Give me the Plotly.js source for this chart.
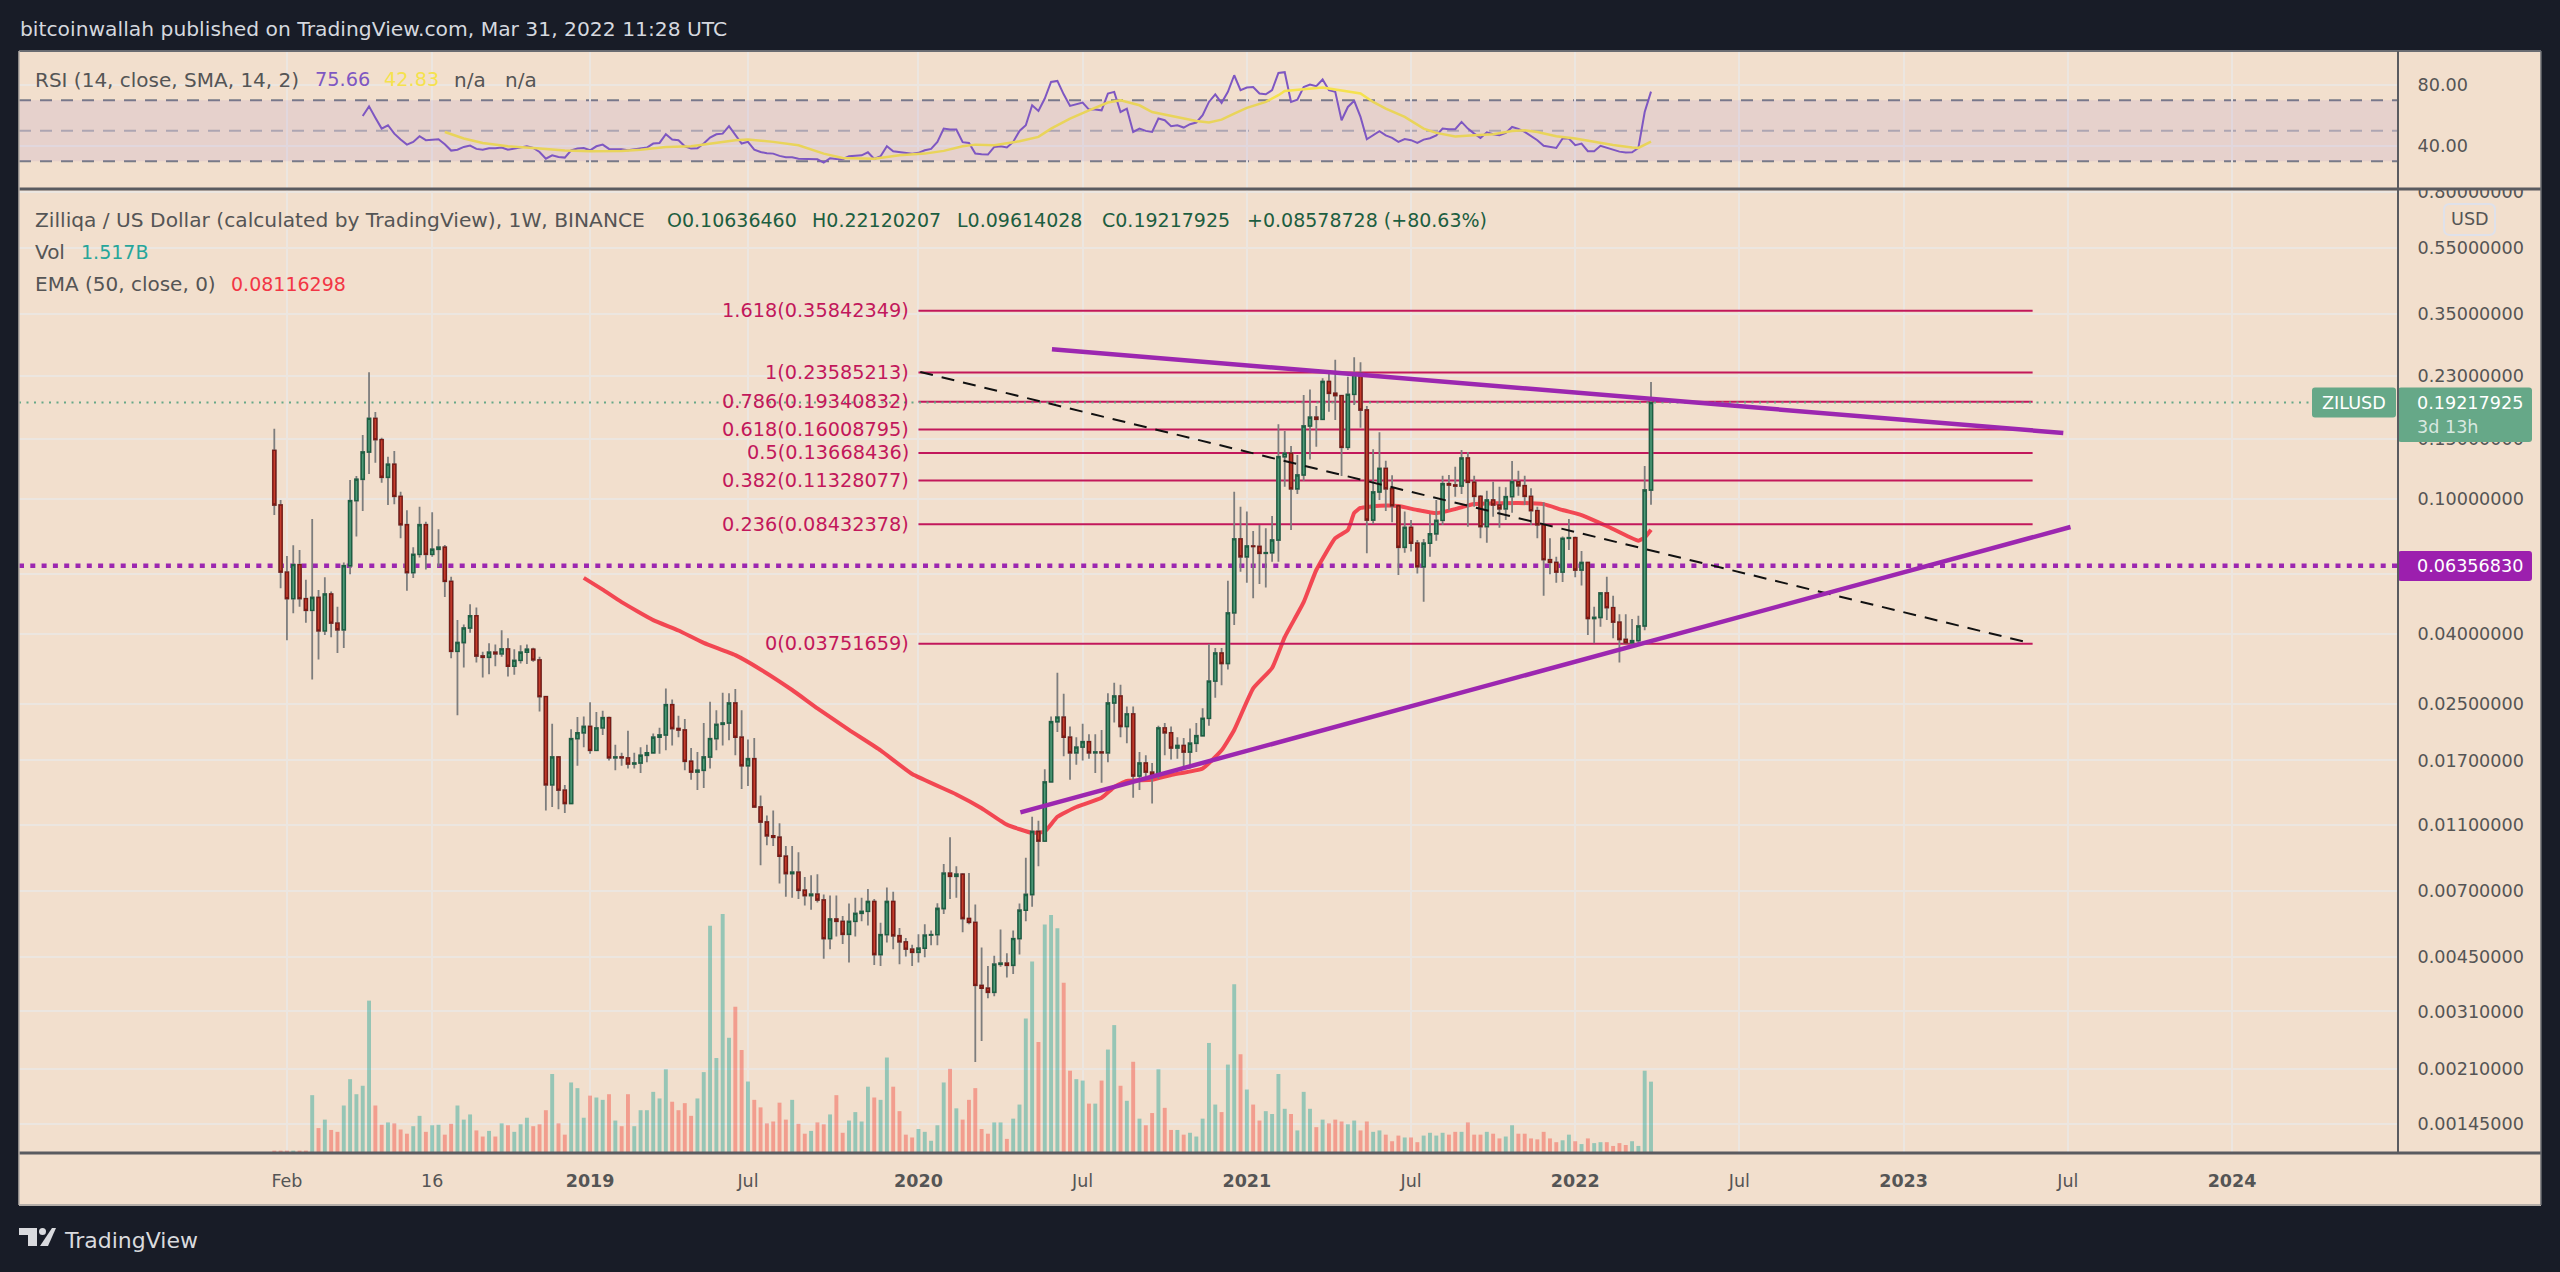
<!DOCTYPE html>
<html><head><meta charset="utf-8">
<script src="https://cdn.plot.ly/plotly-3.0.1.min.js"></script>
<style>html,body{margin:0;padding:0;background:#181c27}#c{width:2560px;height:1272px}</style>
</head><body><div id="c"></div>
<script>
const firstOpen = 0.139;
const closes = [.0960,.0609,.0509,.0641,.0509,.0470,.0513,.0409,.0525,.0431,
.0412,.0636,.0989,.1143,.1375,.1727,.1495,.1159,.1265,.1018,
.0840,.0607,.0687,.0840,.0687,.0711,.0721,.0572,.0356,.0378,
.0417,.0453,.0345,.0342,.0354,.0350,.0362,.0322,.0335,.0354,
.0361,.0336,.0262,.0144,.0174,.0139,.0127,.0197,.0205,.0214,
.0182,.0212,.0227,.0173,.0174,.0173,.0166,.0167,.0176,.0179,
.0199,.0202,.0248,.0211,.0209,.0169,.0157,.0159,.0174,.0197,
.0217,.0219,.0251,.0199,.0164,.0172,.0124,.0112,.0102,.0101,
.00888,.00790,.00797,.00705,.00680,.00687,.00660,.00508,.00580,.00571,
.00523,.00571,.00603,.00611,.00653,.00456,.00522,.00653,.00518,.00497,
.00473,.00463,.00476,.00520,.00522,.00623,.00792,.00775,.00786,.00582,
.00567,.00370,.00363,.00353,.00427,.00430,.00424,.00508,.00616,.00685,
.0105,.00984,.0147,.0221,.0228,.0199,.0179,.0186,.0193,.0179,
.0180,.0179,.0251,.0263,.0214,.0233,.0153,.0167,.0157,.0154,
.0212,.0205,.0185,.0188,.0180,.0191,.0201,.0226,.0291,.0352,
.0328,.0462,.0763,.0676,.0727,.0725,.0692,.0695,.0757,.1332,
.1363,.1072,.1177,.1641,.1741,.1716,.2217,.2047,.2015,.1419,
.2032,.2345,.1828,.0867,.1049,.1231,.1072,.0955,.0721,.0825,
.0741,.0632,.0741,.0790,.0865,.1109,.1100,.1092,.1320,.1120,
.1018,.0829,.0993,.0960,.0936,.1016,.1124,.1094,.1018,.0924,
.0840,.0663,.0651,.0609,.0766,.0769,.0618,.0650,.0445,.0448,
.0529,.0479,.0434,.0386,.0377,.0383,.0423,.1063,.19217925];
const highs = [.161,.0993,.0680,.0731,.0708,.0578,.0873,.0540,.0588,.0534,
.0482,.0650,.1137,.1169,.1543,.2361,.1803,.1515,.1332,.1385,
.1050,.0926,.0721,.0949,.0857,.0914,.0814,.0732,.0590,.0440,
.0427,.0490,.0479,.0355,.0376,.0373,.0411,.0389,.0361,.0371,
.0373,.0365,.0343,.0262,.0218,.0175,.0144,.0210,.0228,.0229,
.0252,.0236,.0238,.0229,.0189,.0179,.0208,.0179,.0186,.0189,
.0204,.0212,.0277,.0257,.0230,.0225,.0185,.0180,.0219,.0253,
.0239,.0269,.0268,.0276,.0239,.0196,.0198,.0134,.0117,.0121,
.0111,.00951,.00951,.00913,.00771,.00780,.00786,.00685,.00680,.00680,
.00592,.00644,.00670,.00670,.00711,.00664,.00566,.00718,.00698,.00546,
.00510,.00487,.00523,.00560,.00537,.00646,.00843,.0101,.00830,.00792,
.00792,.00640,.00478,.00422,.00452,.00540,.00460,.00537,.00644,.00879,
.0116,.0113,.0160,.0229,.0308,.0267,.0214,.0199,.0218,.0203,
.0203,.0209,.0268,.0288,.0284,.0245,.0245,.0180,.0176,.0167,
.0215,.0219,.0214,.0199,.0198,.0211,.0219,.0242,.0374,.0364,
.0364,.0575,.1050,.0949,.0918,.0805,.0838,.0820,.0891,.1660,
.1586,.1432,.1348,.2025,.2102,.1878,.2266,.2345,.2568,.2025,
.2290,.2615,.2526,.1878,.1400,.1572,.1297,.1174,.0960,.0918,
.0867,.0757,.0763,.0903,.0993,.1171,.1177,.1245,.1394,.1375,
.1171,.1027,.1058,.1124,.1087,.1082,.1293,.1212,.1171,.1075,
.0949,.0978,.0766,.0676,.0775,.0873,.0775,.0703,.0650,.0482,
.0530,.0590,.0519,.0458,.0458,.0443,.0453,.1250,.22120207];
const lows = [.0897,.0546,.0384,.0461,.0482,.0432,.0294,.0337,.0398,.0392,
.0352,.0364,.0600,.0775,.0922,.1185,.1279,.1117,.0960,.0965,
.0766,.0537,.0585,.0673,.0620,.0676,.0632,.0515,.0340,.0231,
.0319,.0404,.0330,.0298,.0305,.0322,.0343,.0300,.0304,.0328,
.0327,.0332,.0237,.0121,.0124,.0122,.0119,.0127,.0164,.0186,
.0178,.0182,.0202,.0170,.0159,.0164,.0161,.0161,.0156,.0168,
.0178,.0178,.0182,.0188,.0199,.0159,.0149,.0139,.0141,.0161,
.0182,.0188,.0195,.0176,.0140,.0143,.0124,.00836,.00957,.00951,
.00738,.00675,.00670,.00664,.00636,.00618,.00649,.00443,.00473,.00515,
.00490,.00432,.00515,.00571,.00555,.00425,.00422,.00495,.00473,.00427,
.00450,.00422,.00432,.00448,.00486,.00486,.00600,.00664,.00670,.00530,
.00560,.00220,.00254,.00339,.00344,.00420,.00390,.00400,.00456,.00571,
.00630,.00830,.00979,.0146,.0206,.0175,.0149,.0165,.0170,.0172,
.0156,.0146,.0168,.0220,.0199,.0191,.0132,.0139,.0149,.0127,
.0150,.0176,.0171,.0172,.0162,.0161,.0180,.0209,.0215,.0260,
.0283,.0315,.0426,.0611,.0567,.0510,.0562,.0549,.0654,.0654,
.1087,.0810,.1034,.1132,.1308,.1426,.1707,.1807,.1707,.1169,
.1394,.1892,.1622,.0692,.0844,.0993,.0922,.0854,.0597,.0695,
.0700,.0604,.0498,.0676,.0754,.0838,.0928,.1016,.1034,.0829,
.0949,.0766,.0744,.0887,.0823,.0867,.0911,.1023,.0960,.0838,
.0766,.0519,.0600,.0567,.0570,.0708,.0588,.0556,.0398,.0376,
.0421,.0440,.0389,.0330,.0376,.0366,.0376,.0411,.09614028];
const volumes = [.05,.05,.05,.05,.05,.05,1.23,.53,.71,.49,
.45,1.01,1.57,1.25,1.43,3.24,1.01,.60,.65,.63,
.50,.41,.57,.79,.45,.59,.60,.39,.62,1.01,
.71,.82,.48,.35,.47,.35,.63,.59,.45,.61,
.75,.57,.61,.91,1.68,.63,.39,1.50,1.38,.75,
1.22,1.18,1.13,1.25,.69,.57,1.25,.57,.91,.91,
1.30,1.16,1.78,1.09,.91,1.06,.79,1.16,1.72,4.83,
2.02,5.08,2.45,3.11,2.19,1.52,1.13,.97,.63,.67,
1.07,.71,1.13,.62,.41,.47,.65,.61,.82,1.23,
.43,.69,.87,.67,1.41,1.18,1.13,2.03,1.41,.89,
.39,.33,.51,.45,.26,.59,1.50,1.79,.95,.71,
1.13,1.38,.51,.41,.65,.65,.30,.73,1.03,2.86,
4.07,2.36,4.86,5.06,4.78,3.62,1.75,1.57,1.54,1.05,
1.05,1.54,2.20,2.72,1.43,1.11,1.94,.73,.59,.85,
1.78,.96,.49,.49,.39,.43,.35,.73,2.34,1.03,
.87,1.88,3.59,2.10,1.35,1.03,.69,.89,.83,1.68,
.94,.83,.48,1.30,.94,.55,.71,.63,.71,.67,
.61,.69,.48,.67,.45,.48,.39,.25,.37,.33,
.33,.23,.37,.43,.37,.43,.39,.45,.45,.65,
.39,.39,.45,.41,.31,.35,.59,.41,.41,.31,
.29,.45,.31,.23,.27,.39,.25,.19,.31,.21,
.23,.23,.15,.21,.17,.25,.15,1.75,1.517];
const emaIdx = [49,52,55,60,64,68,73,77,82,86,91,96,101,108,112,116,120,122,124,127,131,133,135,139,142,147,150,152,155,158,160,163,165,168,170,171,172,175,178,181,184,187,190,197,201,204,207,211,216,217,218];
const emaVal = [.0586,.0541,.0497,.0440,.0410,.0377,.0347,.0315,.0274,.0242,.0209,.0182,.0155,.0135,.0123,.0110,.0104,.0105,.0116,.0124,.0132,.0142,.0148,.0149,.0154,.0161,.0182,.0209,.0277,.0318,.0392,.0497,.0618,.0767,.0810,.0910,.0941,.0955,.0953,.0928,.0908,.0934,.0966,.0973,.0966,.0928,.0897,.0833,.0754,.0770,.08116298];
const rsiStart = 14;
const rsiVal = [59.7,66,58.6,51.4,53.6,48.1,44.2,40.9,42.7,46.4,43.8,44.2,44.4,41.1,37,37.6,39.4,40.3,38.1,37.6,38.5,38.5,39,37.6,38.3,39.4,39.8,38.7,36.1,31.7,33.9,32.8,32.4,37.2,38.3,38.7,37.2,39.8,40.9,38.1,37.9,37.9,37.2,37.9,38.5,39,41.6,42,47.7,44.2,43.8,39.8,38.3,38.5,41.6,45.5,47.7,48.1,53,47,41.6,42.7,37.6,36.1,35.2,35,33.5,32.6,32.6,31.7,31.7,31.7,31.3,29.1,32,31.5,31.3,33.3,33.5,33.9,35.9,31.5,33.3,39.8,36.6,36.1,35.5,35,35.5,37.2,38.1,42.7,51.4,50.8,50.8,42.5,42,35,34.6,34.4,39.4,39.8,39,42.7,49.9,53.6,66.7,63,71.1,82,82.7,73.9,66.3,67.4,68.5,63.9,63.9,63.4,74.4,75.5,62.3,64.5,49.2,51.4,49.9,49.2,58,56.9,53,53.6,52.1,54.3,55.4,60.2,68.9,73.9,68.3,75.5,86.4,76.6,78.3,78.7,74.4,73.9,76.6,87.9,88.4,68.9,70.4,78.7,80.3,79.2,83.6,76.6,75.5,56.9,65.6,69.6,59.1,44.4,47,49.7,47,45.3,42.7,44.6,43.8,42,44.2,45.1,47,51.4,51,51,55.8,51.4,48.1,45.3,49,47.7,47,48.6,52.5,51.2,49.2,46.4,43.8,40.1,39.4,38.7,44.9,44.9,40.5,41.6,36.6,36.6,40.1,38.7,37.6,36.3,35.7,35.9,38.7,62.3,75.66];
const smaIdx = [27,30,33,37,41,46,50,55,58,62,66,70,73,75,79,83,87,90,95,99,103,106,109,111,114,118,121,123,126,129,132,134,137,139,143,146,148,150,152,154,157,159,160,163,166,168,171,172,174,176,179,182,184,187,190,193,196,198,200,203,206,209,212,215,216,218];
const smaVal = [49.2,44.9,42,39.8,38.7,37,36.6,36.8,37.6,39.4,39.8,42,43.8,44.2,42.7,40.5,35,32.2,31.7,33.9,35,36.8,39.8,40.9,40.5,43.1,46,51.4,58,63.4,68.5,70,66.7,62.3,59.1,56.4,55.4,57.3,61.3,65,68.9,73.3,76.1,77.4,78.3,77,75.2,74.4,68.9,64.5,59.1,51.4,48.6,46.2,47,47.7,49.9,50.3,49.2,46.4,44.9,42.7,40.7,39,38.7,42.83];
const fibRatios = ["1.618","1","0.786","0.618","0.5","0.382","0.236","0"];
const fibPrices = [.35842349,.23585213,.19340832,.16008795,.13668436,.11328077,.08432378,.03751659];
const fibDates = ["2020-01-06","2023-05-25"];
const upperDates = ["2020-06-02","2023-06-28"], upperVals = [.2759,.1564];
const lowerDates = ["2020-04-28","2023-07-06"], lowerVals = [.01195,.0827];
const dashDates = ["2020-01-08","2023-05-18"], dashVals = [.2365,.0379];
const levelPrice = 0.0635683, lastPrice = 0.19217925;
const priceTicks = [.8,.55,.35,.23,.15,.1,.06,.04,.025,.017,.011,.007,.0045,.0031,.0021,.00145];
const priceLabels = ["0.80000000","0.55000000","0.35000000","0.23000000","0.15000000","0.10000000","0.06000000","0.04000000","0.02500000","0.01700000","0.01100000","0.00700000","0.00450000","0.00310000","0.00210000","0.00145000"];
const timeTicks = ["2018-02-05","2018-07-16","2019-01-07","2019-07-01","2020-01-06","2020-07-06","2021-01-04","2021-07-05","2022-01-03","2022-07-04","2023-01-02","2023-07-03","2024-01-01"];
const timeLabels = ["Feb","16","<b>2019</b>","Jul","<b>2020</b>","Jul","<b>2021</b>","Jul","<b>2022</b>","Jul","<b>2023</b>","Jul","<b>2024</b>"];
const rsiTicks = [80,40], rsiLabels = ["80.00","40.00"];

const WEEK = 7*864e5, t0 = Date.UTC(2018,0,22);
const dates = closes.map((_,i)=>new Date(t0+i*WEEK).toISOString().slice(0,10));
const opens = closes.map((c,i)=> i? closes[i-1] : firstOpen);
const xRange = ["2017-04-14","2024-07-03"];
const W=2560,H=1272, L=19,AX=2398,R=2541,T=51,SEP=189,B=1153,F=1205;
const px=x=>x/W, py=y=>1-y/H;
const font="DejaVu Sans";
const bg="#f2dfcd", grid="#ece6e0", axisText="#555555", green="#1d5e40", fibC="#c2185b", purple="#9c27b0";
const logRange=[-2.92523,-0.08743];

const traces=[
 {type:'bar',x:dates,y:volumes,xaxis:'x',yaxis:'y',width:0.62*WEEK,marker:{line:{width:0},color:closes.map((c,i)=>c>=opens[i]?'rgba(38,166,154,0.45)':'rgba(244,67,54,0.42)')}},
 {type:'scatter',mode:'lines',x:xRange,y:[levelPrice,levelPrice],xaxis:'x',yaxis:'y3',line:{color:purple,width:4.5,dash:'5px,6.3px'}},
 {type:'scatter',mode:'lines',x:emaIdx.map(i=>dates[i]),y:emaVal,xaxis:'x',yaxis:'y3',line:{color:'rgba(242,54,69,0.9)',width:4,shape:'spline',smoothing:0.4}},
 ...fibPrices.map(p=>({type:'scatter',mode:'lines',x:fibDates,y:[p,p],xaxis:'x',yaxis:'y3',line:{color:fibC,width:2}})),
 {type:'scatter',mode:'lines',x:[xRange[0],"2024-03-31"],y:[lastPrice,lastPrice],xaxis:'x',yaxis:'y3',line:{color:'#66a888',width:2,dash:'2px,5.5px'}},
 {type:'candlestick',x:dates,open:opens,high:highs,low:lows,close:closes,xaxis:'x',yaxis:'y4',
  increasing:{line:{color:'#7d7d7d',width:1.8},fillcolor:'rgba(0,0,0,0)'},decreasing:{line:{color:'#7d7d7d',width:1.8},fillcolor:'rgba(0,0,0,0)'}},
 {type:'candlestick',x:dates,open:opens,close:closes,high:opens.map((o,i)=>Math.max(o,closes[i])),low:opens.map((o,i)=>Math.min(o,closes[i])),xaxis:'x',yaxis:'y4',
  increasing:{line:{color:'#1d5f42',width:1.4},fillcolor:'#4f9a78'},decreasing:{line:{color:'#7a1a14',width:1.4},fillcolor:'#c53d2d'}},
 {type:'scatter',mode:'lines',x:dashDates,y:dashVals,xaxis:'x',yaxis:'y4',line:{color:'#111111',width:2,dash:'13px,9px'}},
 {type:'scatter',mode:'lines',x:upperDates,y:upperVals,xaxis:'x',yaxis:'y4',line:{color:purple,width:4.5}},
 {type:'scatter',mode:'lines',x:lowerDates,y:lowerVals,xaxis:'x',yaxis:'y4',line:{color:purple,width:4.5}},
 {type:'scatter',mode:'lines',x:dates.slice(rsiStart),y:rsiVal,xaxis:'x2',yaxis:'y2',line:{color:'#7e57c2',width:2}},
 {type:'scatter',mode:'lines',x:smaIdx.map(i=>dates[i]),y:smaVal,xaxis:'x2',yaxis:'y2',line:{color:'#f5e24e',width:2.5}}
];

function rr(x0,y0,x1,y1,r,fill,line,lw){
 const f=(x,y)=>px(x).toFixed(6)+' '+py(y).toFixed(6);
 const d=`M${f(x0+r,y0)}L${f(x1-r,y0)}Q${f(x1,y0)} ${f(x1,y0+r)}L${f(x1,y1-r)}Q${f(x1,y1)} ${f(x1-r,y1)}L${f(x0+r,y1)}Q${f(x0,y1)} ${f(x0,y1-r)}L${f(x0,y0+r)}Q${f(x0,y0)} ${f(x0+r,y0)}Z`;
 return {type:'path',path:d,xref:'paper',yref:'paper',layer:'above',fillcolor:fill,line:{color:line||fill,width:lw||0}};
}
function poly(pts,fill){
 const d='M'+pts.map(p=>px(p[0]).toFixed(6)+' '+py(p[1]).toFixed(6)).join('L')+'Z';
 return {type:'path',path:d,xref:'paper',yref:'paper',layer:'above',fillcolor:fill,line:{width:0}};
}
const rect=(x0,y0,x1,y1,fill,layer)=>({type:'rect',xref:'paper',yref:'paper',x0:px(x0),x1:px(x1),y0:py(y1),y1:py(y0),fillcolor:fill,line:{width:0},layer:layer||'above'});
const hl=(x0,x1,y,c,w)=>({type:'line',xref:'paper',yref:'paper',x0:px(x0),x1:px(x1),y0:py(y),y1:py(y),line:{color:c,width:w},layer:'above'});
const vl=(x,y0,y1,c,w)=>({type:'line',xref:'paper',yref:'paper',x0:px(x),x1:px(x),y0:py(y0),y1:py(y1),line:{color:c,width:w},layer:'above'});
const rsiLine=(v,c)=>({type:'line',xref:'paper',yref:'y2',x0:px(L),x1:px(AX),y0:v,y1:v,line:{color:c,width:2,dash:'12px,9px'},layer:'between'});

const shapes=[
 rect(L,T,R,F,bg,'below'),
 {type:'rect',xref:'paper',yref:'y2',x0:px(L),x1:px(AX),y0:30,y1:70,fillcolor:'rgba(126,87,194,0.1)',line:{width:0},layer:'above'},
 rsiLine(70,'#787b86'),rsiLine(50,'#b3aeb0'),rsiLine(30,'#787b86'),
 rect(AX+1,170,R-1,SEP-1,bg),
 rr(2312,387.5,2396,417.6,3,'#66a888'),
 rr(AX,387.5,2532,442,3,'#66a888'),
 rr(AX,551,2532,581,3,'#9c1fae'),
 rr(2444,204,2495,235,6,bg,'#dfe1ea',2),
 hl(L,R,T,'#6a6c72',2),hl(L,R,SEP,'#5a5b60',3),hl(L,R,B,'#5a5b60',3),hl(L,R,F,'#b5aea8',2),
 vl(L,T,F,'#b5aea8',1.5),vl(R,T,F,'#6a6c72',1.5),vl(AX,T,B,'#5a5b60',2),
 poly([[19,1228],[37,1228],[37,1246],[28,1246],[28,1235],[19,1235]],'#d9dade'),
 poly([[52,1228],[56,1228],[48,1246],[40,1246]],'#d9dade'),
 {type:'circle',xref:'paper',yref:'paper',x0:px(39),x1:px(46),y0:py(1235),y1:py(1228),fillcolor:'#d9dade',line:{width:0},layer:'above'}
];
const txt=(s,x,y,c,size,anchor,extra)=>Object.assign({text:s,xref:'paper',yref:'paper',x:px(x),y:py(y),showarrow:false,xanchor:anchor||'left',yanchor:'middle',borderpad:0,font:{family:font,size:size||17.3,color:c}},extra||{});
const annotations=[
 txt("bitcoinwallah published on TradingView.com, Mar 31, 2022 11:28 UTC",19,29,'#d5d8df',20.3),
 txt("RSI (14, close, SMA, 14, 2)",34,80,axisText,20),
 txt("75.66",314,80,'#7e57c2',19.3),txt("42.83",383,80,'#f5e24e',19.3),txt("n/a",453,80,axisText,20),txt("n/a",504,80,axisText,20),
 txt("Zilliqa / US Dollar (calculated by TradingView), 1W, BINANCE",34,220,axisText,20.2),
 txt("O0.10636460",666,220,green,19),txt("H0.22120207",811,220,green,19),txt("L0.09614028",956,220,green,19),txt("C0.19217925",1101,220,green,19),txt("+0.08578728 (+80.63%)",1246,220,green,19),
 txt("Vol",34,252,axisText,20),txt("1.517B",80,252,'#26a69a',19),
 txt("EMA (50, close, 0)",34,284,axisText,20),txt("0.08116298",230,284,'#f23645',19),
 ...fibRatios.map((r,i)=>({text:`${r}(${fibPrices[i].toFixed(8)})`,xref:'x',yref:'y3',x:fibDates[0],y:Math.log10(fibPrices[i]),xshift:-8,showarrow:false,xanchor:'right',yanchor:'middle',borderpad:0,font:{family:font,size:19.3,color:fibC}})),
 txt("ZILUSD",2354,403,'#ffffff',17.6,'center'),
 txt("0.19217925",2415.7,403,'#ffffff',17.6),
 txt("3d 13h",2415.7,427,'rgba(255,255,255,0.75)',17.6),
 txt("0.06356830",2415.7,566,'#ffffff',17.6),
 txt("USD",2469.5,219.5,axisText,17.6,'center'),
 txt("TradingView",63,1240,'#d9dade',22)
];
const xCommon={type:'date',range:xRange,rangeslider:{visible:false},tickmode:'array',tickvals:timeTicks,ticktext:timeLabels,showgrid:true,gridcolor:grid,gridwidth:2,zeroline:false,showline:false,tickfont:{family:font,size:17.5,color:axisText},ticks:'outside',ticklen:12,tickcolor:'rgba(0,0,0,0)',tickangle:0};
const dom=[1-B/H,1-SEP/H];
const tickF={family:font,size:17.6,color:axisText};
const layout={width:W,height:H,autosize:false,margin:{l:0,r:0,t:0,b:0,pad:0},paper_bgcolor:'#181c27',plot_bgcolor:'rgba(0,0,0,0)',showlegend:false,boxgap:0.33,boxmode:'overlay',bargap:0.3,
 xaxis:Object.assign({},xCommon,{domain:[px(L),px(AX)],anchor:'y'}),
 xaxis2:Object.assign({},xCommon,{domain:[px(L),px(AX)],anchor:'y2',showticklabels:false,ticks:''}),
 yaxis:{domain:dom,range:[0,20.5],visible:false,showgrid:false,zeroline:false,anchor:'x'},
 yaxis3:{domain:dom,type:'log',overlaying:'y',side:'right',anchor:'x',range:logRange,tickmode:'array',tickvals:priceTicks,ticktext:priceLabels,showgrid:true,gridcolor:grid,gridwidth:2,zeroline:false,showline:false,tickfont:tickF,ticks:'outside',ticklen:15,tickcolor:'rgba(0,0,0,0)'},
 yaxis4:{domain:dom,type:'log',overlaying:'y',side:'right',anchor:'x',range:logRange,visible:false,showgrid:false,zeroline:false},
 yaxis2:{domain:[1-SEP/H,1-T/H],range:[11.8,102.3],side:'right',anchor:'x2',tickmode:'array',tickvals:rsiTicks,ticktext:rsiLabels,showgrid:true,gridcolor:grid,gridwidth:2,zeroline:false,showline:false,tickfont:tickF,ticks:'outside',ticklen:15,tickcolor:'rgba(0,0,0,0)'},
 shapes,annotations};
Plotly.newPlot('c',traces,layout,{staticPlot:true,displayModeBar:false});
</script></body></html>
